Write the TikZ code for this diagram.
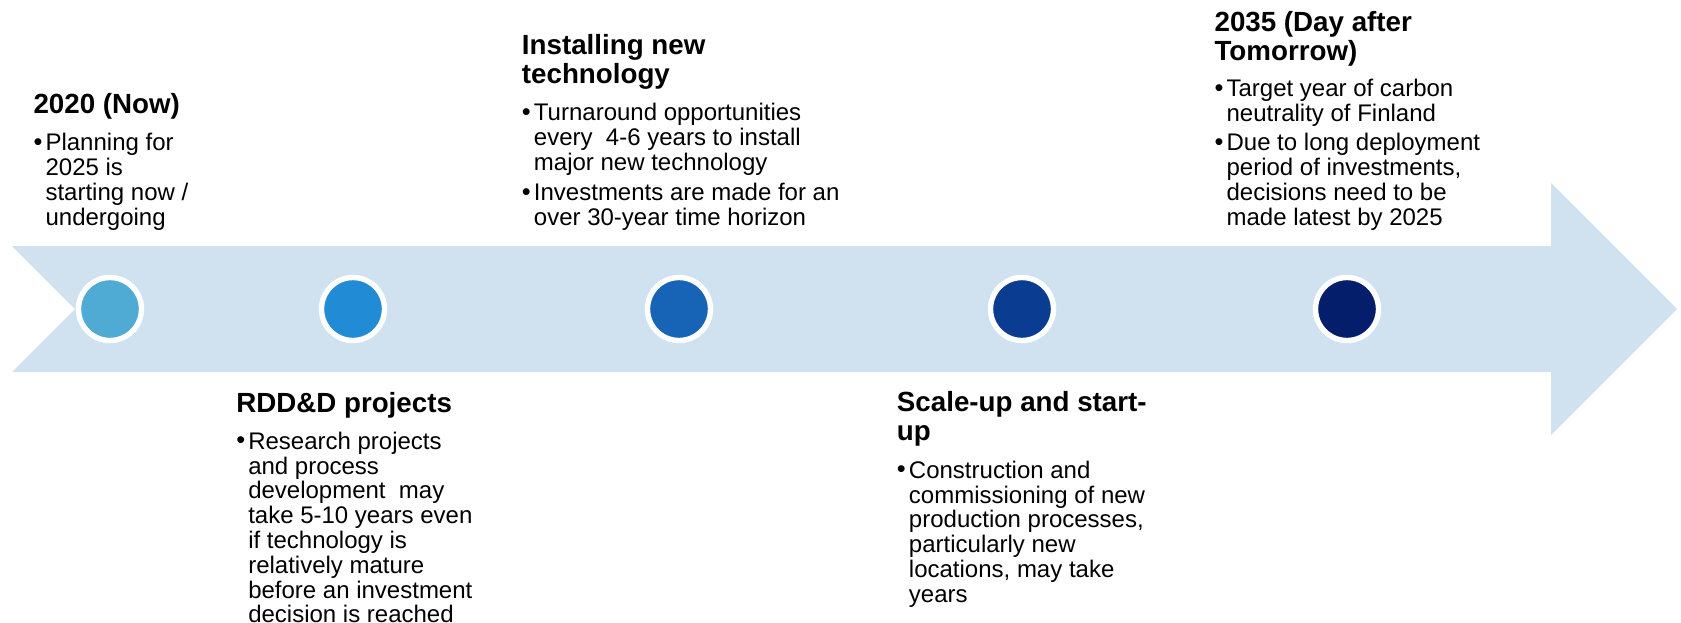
\documentclass[tikz,border=0pt]{standalone}
\usepackage{fontspec}
\setmainfont{Liberation Sans}
\definecolor{bandblue}{HTML}{D0E2EF}
\definecolor{dotA}{HTML}{4FABD4}
\definecolor{dotB}{HTML}{228BD6}
\definecolor{dotC}{HTML}{1764B6}
\definecolor{dotD}{HTML}{0A3D91}
\definecolor{dotE}{HTML}{041E6B}
\newcommand{\blt}{\makebox[9pt][l]{\raisebox{0.3pt}{\fontsize{19}{19}\selectfont\textbullet}}}
\tikzset{
  title/.style={font=\fontsize{20.8}{21.4}\selectfont\bfseries, align=left, inner sep=0pt, anchor=base west},
  body/.style={font=\fontsize{18}{18.5}\selectfont, inner sep=0pt, anchor=base west},
  dot/.style={circle, draw=white, line width=4.05pt, minimum size=47.25pt, inner sep=0pt}
}
\begin{document}
\begin{tikzpicture}[x=0.75pt, y=-0.75pt]
      \useasboundingbox (0,0) rectangle (1681,622);
      % timeline arrow
      \fill[bandblue] (12,246) -- (1551,246) -- (1551,183) -- (1677,309)
        -- (1551,435) -- (1551,372) -- (12,372) -- (75,309) -- cycle;
      \node[dot, fill=dotA] (d1) at (110,309) {};
      \node[dot, fill=dotB] (d2) at (353,309) {};
      \node[dot, fill=dotC] (d3) at (679,309) {};
      \node[dot, fill=dotD] (d4) at (1022,309) {};
      \node[dot, fill=dotE] (d5) at (1347,309) {};
      % stages (two-line titles sit on their last baseline)
      \node[title] (t1) at (33.3,113.3) {2020 (Now)};
      \node[body] (b1) at (33.3,150.7) {\begin{tabular}[t]{@{}l@{}l@{}}
        \blt & Planning for\\ & 2025 is\\ & starting now /\\ & undergoing
      \end{tabular}};
      \node[title] (t2) at (236,412.3) {RDD\&D projects};
      \node[body] (b2) at (236,449.3) {\begin{tabular}[t]{@{}l@{}l@{}}
        \blt & Research projects\\ & and process\\ & development\ \ may\\
        & take 5-10 years even\\ & if technology is\\ & relatively mature\\
        & before an investment\\ & decision is reached
      \end{tabular}};
      \node[title] (t3) at (521.7,83.3) {Installing new\\technology};
      \node[body] (b3) at (521.7,120.7) {\begin{tabular}[t]{@{}l@{}l@{}}
        \blt & Turnaround opportunities\\ & every\ \ 4-6 years to install\\
        & major new technology\\[4pt]
        \blt & Investments are made for an\\ & over 30-year time horizon
      \end{tabular}};
      \node[title] (t4) at (896.7,440) {Scale-up and start-\\up};
      \node[body] (b4) at (896.7,478.3) {\begin{tabular}[t]{@{}l@{}l@{}}
        \blt & Construction and\\ & commissioning of new\\
        & production processes,\\ & particularly new\\
        & locations, may take\\ & years
      \end{tabular}};
      \node[title] (t5) at (1214.3,60) {2035 (Day after\\Tomorrow)};
      \node[body] (b5) at (1214.3,96.7) {\begin{tabular}[t]{@{}l@{}l@{}}
        \blt & Target year of carbon\\ & neutrality of Finland\\[3.5pt]
        \blt & Due to long deployment\\ & period of investments,\\
        & decisions need to be\\ & made latest by 2025
      \end{tabular}};
\end{tikzpicture}
\end{document}
